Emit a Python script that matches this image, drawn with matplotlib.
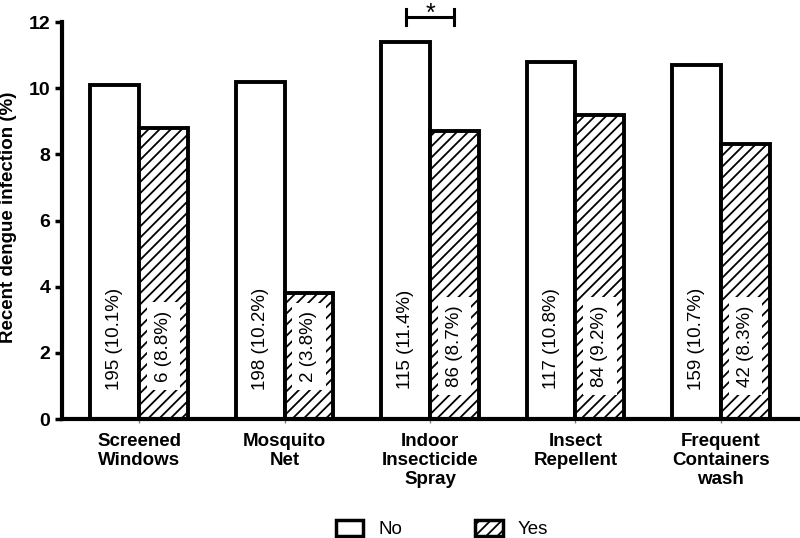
import matplotlib
matplotlib.use("Agg")
import matplotlib.pyplot as plt
import numpy as np
from matplotlib.patches import Patch

plt.rcParams["font.family"] = ["Liberation Sans", "DejaVu Sans"]
plt.rcParams["hatch.linewidth"] = 1.3

categories = ["Screened\nWindows", "Mosquito\nNet", "Indoor\nInsecticide\nSpray",
              "Insect\nRepellent", "Frequent\nContainers\nwash"]
no_vals = [10.1, 10.2, 11.4, 10.8, 10.7]
yes_vals = [8.8, 3.8, 8.7, 9.2, 8.3]
no_labels = ["195 (10.1%)", "198 (10.2%)", "115 (11.4%)", "117 (10.8%)", "159 (10.7%)"]
yes_labels = ["6 (8.8%)", "2 (3.8%)", "86 (8.7%)", "84 (9.2%)", "42 (8.3%)"]

fig = plt.figure(figsize=(8, 5.38), dpi=100)
ax = fig.add_axes([0.0775, 0.221, 0.92, 0.738])

x = np.arange(len(categories))
w = 0.335
ax.bar(x - w / 2, no_vals, w, color="white", edgecolor="black", linewidth=2.8)
ax.bar(x + w / 2, yes_vals, w, color="white", edgecolor="black", linewidth=2.8, hatch="///")

box = dict(facecolor="white", edgecolor="none", pad=6)
for i in range(len(categories)):
    ax.text(x[i] - w / 2, 2.42, no_labels[i], rotation=90, ha="center", va="center",
            fontsize=13.5, bbox=box)
    ax.text(x[i] + w / 2, 2.2, yes_labels[i], rotation=90, ha="center", va="center",
            fontsize=13.5, bbox=box)

# significance bracket over Indoor Insecticide Spray
x0, x1, yb = x[2] - w / 2, x[2] + w / 2, 12.15
ax.plot([x0, x1], [yb, yb], color="black", lw=2.2, clip_on=False)
ax.plot([x0, x0], [yb - 0.25, yb + 0.25], color="black", lw=2.2, clip_on=False)
ax.plot([x1, x1], [yb - 0.25, yb + 0.25], color="black", lw=2.2, clip_on=False)
ax.text(x[2], 12.05, "*", ha="center", va="baseline", fontsize=18)

ax.set_xlim(-0.53, 4.53)
ax.set_ylim(0, 12)
ax.set_yticks(range(0, 13, 2))
ax.set_xticks(x)
ax.set_xticklabels(categories, fontsize=13.5, fontweight="bold", linespacing=1.15)
for lab in ax.get_yticklabels():
    lab.set_fontweight("bold")
    lab.set_fontsize(14)
ax.tick_params(axis="y", width=2.5, length=5)
ax.tick_params(axis="x", width=1, length=3, color="gray", pad=7)
ax.set_ylabel("Recent dengue infection (%)", fontsize=13.5, fontweight="bold")
ax.yaxis.set_label_coords(-0.061, 0.509)

for s in ["top", "right"]:
    ax.spines[s].set_visible(False)
for s in ["left", "bottom"]:
    ax.spines[s].set_linewidth(3)

handles = [Patch(facecolor="white", edgecolor="black", linewidth=2.5, label="No"),
           Patch(facecolor="white", edgecolor="black", linewidth=2.5, hatch="///", label="Yes")]
fig.legend(handles=handles, loc="lower center", ncol=2, frameon=False, fontsize=13.5,
           bbox_to_anchor=(0.5525, -0.032), columnspacing=3.9, handlelength=1.45,
           handleheight=0.9, handletextpad=0.8)

fig.savefig("out.png", dpi=100)
